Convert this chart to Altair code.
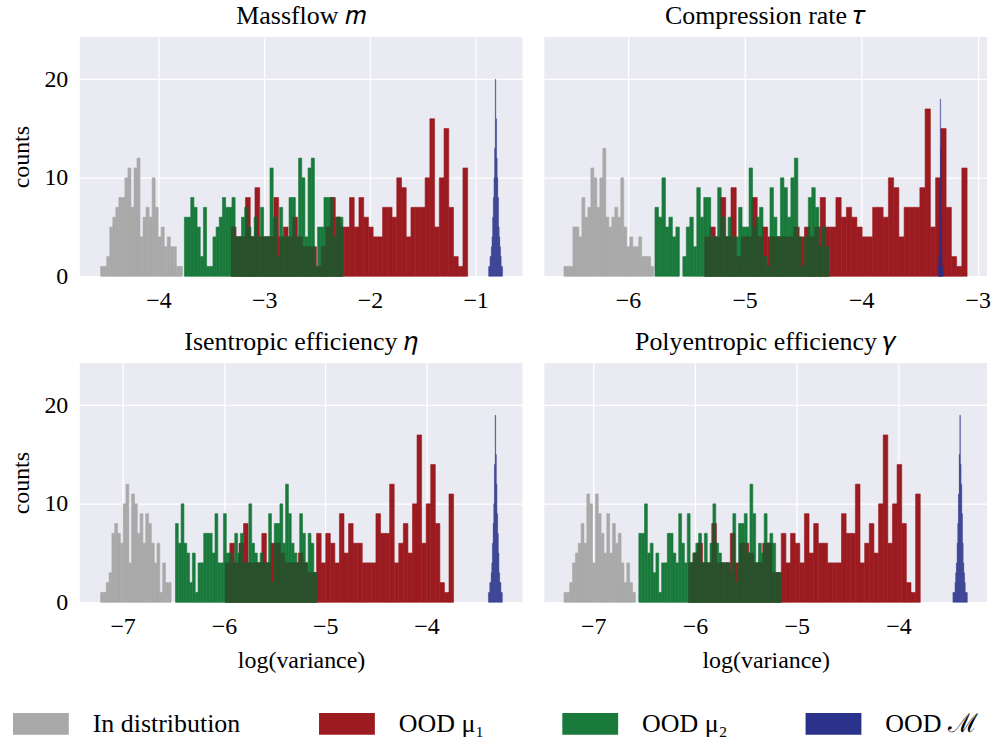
import altair as alt
import pandas as pd

GROUPS = ["In distribution", "OOD μ₁", "OOD μ₂", "OOD ℳ"]
COLORS = ["#a9a9a9", "#9b1b20", "#1a7a3c", "#2a328c"]
OVERLAP_COLOR = "#2b512c"
TITLES = ["Massflow 𝑚", "Compression rate 𝜏", "Isentropic efficiency 𝜂", "Polyentropic efficiency 𝛾"]
X_DOMAINS = [[-4.745, -0.557], [-6.718, -2.92], [-7.423, -3.052], [-7.48, -3.131]]
X_TICKS = [[-4, -3, -2, -1], [-6, -5, -4, -3], [-7, -6, -5, -4], [-7, -6, -5, -4]]
Y_MAX = 24.3
Y_TICKS = [0, 10, 20]

# ---- Panel 1: Massflow ----
mass_id_range = [-4.547, -3.774]
mass_id = [1, 1, 2, 5, 6, 7, 8, 8, 10, 11, 7, 11, 12, 4, 6, 7, 6, 10, 7, 4, 5, 3, 4, 3, 3, 1, 1]
mass_mu1_range = [-3.311, -1.075]
mass_mu1 = [5, 4, 4, 8, 4, 9, 4, 4, 4, 8, 4, 5, 4, 6, 4, 3, 3, 3, 1, 3, 5, 8, 6, 5, 5,
            8, 5, 8, 6, 5, 4, 4, 7, 7, 6, 10, 9, 4, 7, 7, 7, 10, 16, 5, 10, 15, 7, 2, 1, 11]
mass_mu2_range = [-3.755, -2.255]
mass_mu2 = [6, 6, 8, 7, 5, 2, 7, 1, 1, 4, 5, 6, 8, 7, 7, 8, 4, 4, 6, 7, 5, 4, 6, 4, 7,
            4, 4, 11, 6, 2, 7, 4, 4, 8, 8, 4, 12, 10, 4, 11, 12, 1, 5, 5, 8, 8, 8, 4, 6, 6]
mass_m_range = [-0.877, -0.745]
mass_m = [1, 1, 2, 2, 3, 4, 6, 8, 10, 13, 20, 16, 12, 10, 8, 5, 4, 3, 2, 1, 1]

# ---- Panel 2: Compression rate ----
comp_id_range = [-6.550, -5.780]
comp_id = [1, 1, 1, 5, 5, 4, 8, 6, 7, 11, 10, 7, 10, 13, 6, 5, 6, 7, 6, 10, 5, 3, 4, 3, 3, 4, 2, 2, 2, 1]
comp_mu1_range = [-5.342, -3.091]
comp_mu1 = [4, 5, 4, 8, 4, 9, 2, 4, 4, 8, 4, 5, 4, 4, 4, 4, 4, 5, 4, 5, 4, 5, 8, 5, 5,
            8, 6, 7, 6, 5, 4, 4, 7, 7, 6, 10, 9, 4, 7, 7, 7, 9, 17, 5, 10, 15, 7, 2, 1, 11]
comp_mu2_range = [-5.769, -4.274]
comp_mu2 = [7, 6, 10, 5, 6, 4, 5, 0, 2, 5, 6, 3, 9, 6, 8, 8, 4, 4, 9, 6, 4, 6, 4, 4, 7,
            5, 5, 11, 5, 6, 7, 2, 1, 9, 6, 4, 10, 9, 6, 10, 12, 4, 1, 4, 8, 9, 7, 3, 5, 3]
comp_m_range = [-3.339, -3.297]
comp_m = [1, 2, 4, 9, 18, 13, 6, 3, 1, 1]

# ---- Panel 3: Isentropic efficiency ----
isen_id_range = [-7.217, -6.521]
isen_id = [1, 1, 2, 3, 7, 8, 7, 6, 10, 12, 4, 11, 10, 7, 9, 6, 9, 8, 6, 4, 6, 1, 4, 2, 2]
isen_mu1_range = [-5.986, -3.732]
isen_mu1 = [4, 6, 4, 6, 8, 4, 4, 4, 7, 4, 6, 6, 5, 4, 4, 4, 5, 4, 3, 3, 7, 4, 7, 6, 4,
            9, 5, 8, 6, 6, 4, 4, 4, 9, 7, 7, 12, 4, 6, 8, 5, 10, 17, 6, 10, 14, 8, 2, 1, 11]
isen_mu2_range = [-6.478, -5.084]
isen_mu2 = [8, 6, 10, 6, 5, 2, 5, 1, 4, 4, 7, 7, 7, 5, 9, 4, 4, 9, 5, 5, 4, 7, 5, 7, 4,
            4, 10, 6, 5, 4, 5, 4, 4, 9, 2, 8, 8, 10, 6, 12, 9, 6, 5, 4, 9, 7, 4, 7, 6, 3]
isen_m_range = [-3.388, -3.250]
isen_m = [1, 1, 2, 2, 3, 4, 6, 8, 10, 14, 19, 15, 12, 9, 7, 5, 3, 2, 2, 1, 1]

# ---- Panel 4: Polyentropic efficiency ----
poly_id_range = [-7.287, -6.586]
poly_id = [1, 1, 2, 4, 5, 6, 8, 6, 11, 10, 4, 11, 9, 7, 5, 9, 5, 8, 6, 7, 4, 2, 4, 2, 1]
poly_mu1_range = [-6.063, -3.787]
poly_mu1 = [4, 5, 6, 4, 4, 8, 4, 4, 4, 7, 4, 6, 6, 5, 4, 4, 6, 6, 3, 3, 7, 4, 7, 6, 4,
            9, 5, 8, 6, 6, 4, 4, 4, 9, 7, 7, 12, 4, 6, 8, 5, 10, 17, 6, 10, 14, 8, 2, 1, 11]
poly_mu2_range = [-6.552, -5.152]
poly_mu2 = [7, 7, 10, 5, 6, 3, 5, 1, 4, 4, 7, 7, 5, 4, 9, 6, 4, 9, 4, 5, 6, 7, 4, 7, 4,
            6, 10, 6, 5, 4, 4, 4, 3, 9, 2, 8, 8, 9, 5, 12, 9, 4, 6, 5, 9, 6, 7, 6, 3, 3]
poly_m_range = [-3.467, -3.324]
poly_m = [1, 1, 1, 2, 3, 4, 6, 8, 11, 15, 19, 14, 12, 9, 6, 4, 3, 2, 1, 1, 1]

PANELS = [
    [(mass_id_range, mass_id), (mass_mu1_range, mass_mu1), (mass_mu2_range, mass_mu2), (mass_m_range, mass_m)],
    [(comp_id_range, comp_id), (comp_mu1_range, comp_mu1), (comp_mu2_range, comp_mu2), (comp_m_range, comp_m)],
    [(isen_id_range, isen_id), (isen_mu1_range, isen_mu1), (isen_mu2_range, isen_mu2), (isen_m_range, isen_m)],
    [(poly_id_range, poly_id), (poly_mu1_range, poly_mu1), (poly_mu2_range, poly_mu2), (poly_m_range, poly_m)],
]

FONT = "Liberation Serif"


def hist_rows(rng, counts, group):
    lo, hi = rng
    n = len(counts)
    w = (hi - lo) / n
    return [{"x0": lo + i * w, "x1": lo + (i + 1) * w, "count": c, "group": group}
            for i, c in enumerate(counts) if c > 0]


def count_at(rows, v):
    for r in rows:
        if r["x0"] <= v < r["x1"]:
            return r["count"]
    return 0


def overlap_rows(a, b):
    edges = sorted({r["x0"] for r in a} | {r["x1"] for r in a} | {r["x0"] for r in b} | {r["x1"] for r in b})
    out = []
    for e0, e1 in zip(edges[:-1], edges[1:]):
        mid = (e0 + e1) / 2
        h = min(count_at(a, mid), count_at(b, mid))
        if h > 0:
            out.append({"x0": e0, "x1": e1, "count": h})
    return out


color_enc = alt.Color(
    "group:N",
    scale=alt.Scale(domain=GROUPS, range=COLORS),
    legend=alt.Legend(
        title=None, orient="none", direction="horizontal", legendX=-67, legendY=661,
        symbolType="M-1,-0.39L1,-0.39L1,0.39L-1,0.39Z", symbolSize=3136,
        symbolStrokeWidth=0, symbolOpacity=1, labelFont=FONT, labelFontSize=26,
        labelColor="#000000", labelOffset=24, columnPadding=78, padding=0,
    ),
)


def panel(i, left, bottom):
    groups = PANELS[i]
    rows = [hist_rows(rng, cnt, GROUPS[k]) for k, (rng, cnt) in enumerate(groups)]
    ov = overlap_rows(rows[1], rows[2])
    xenc = alt.X(
        "x0:Q",
        scale=alt.Scale(domain=X_DOMAINS[i], nice=False, zero=False),
        axis=alt.Axis(values=X_TICKS[i], title="log(variance)" if bottom else None, format="d"),
    )
    yenc = alt.Y(
        "count:Q",
        scale=alt.Scale(domain=[0, Y_MAX], nice=False),
        axis=alt.Axis(values=Y_TICKS, title="counts" if left else None, labels=left),
    )
    layers = []
    for k in range(3):
        layers.append(
            alt.Chart(pd.DataFrame(rows[k])).mark_rect(stroke=COLORS[k], strokeWidth=0.6).encode(
                x=xenc, x2="x1:Q", y=yenc, y2=alt.datum(0), color=color_enc
            )
        )
    layers.append(
        alt.Chart(pd.DataFrame(ov)).mark_rect(color=OVERLAP_COLOR, stroke=OVERLAP_COLOR, strokeWidth=0.6).encode(
            x=xenc, x2="x1:Q", y=yenc, y2=alt.datum(0)
        )
    )
    layers.append(
        alt.Chart(pd.DataFrame(rows[3])).mark_rect(opacity=0.9, stroke=COLORS[3], strokeWidth=0.3).encode(
            x=xenc, x2="x1:Q", y=yenc, y2=alt.datum(0), color=color_enc
        )
    )
    return alt.layer(*layers).properties(
        width=444, height=240,
        title=alt.TitleParams(TITLES[i], font=FONT, fontSize=26, fontWeight="normal", color="#000000", offset=8),
    )


top = alt.hconcat(panel(0, True, False), panel(1, False, False), spacing=22)
bot = alt.hconcat(panel(2, True, True), panel(3, False, True), spacing=22)

chart = alt.vconcat(top, bot, spacing=17).properties(
    padding={"left": 10, "top": 2, "right": 5, "bottom": 5},
    background="#ffffff",
).configure_view(
    stroke=None, fill="#eaeaf2"
).configure_title(
    font=FONT, fontSize=26, fontWeight="normal", color="#000000"
).configure_axis(
    grid=True, gridColor="#ffffff", gridWidth=1.3, domain=False, ticks=False, tickSize=0,
    labelFont=FONT, labelFontSize=24, labelColor="#000000", labelPadding=12,
    titleFont=FONT, titleFontSize=24, titleColor="#000000", titleFontWeight="normal",
    titlePadding=10,
)

chart.save("out.html", embed_options={"renderer": "svg", "actions": False})
